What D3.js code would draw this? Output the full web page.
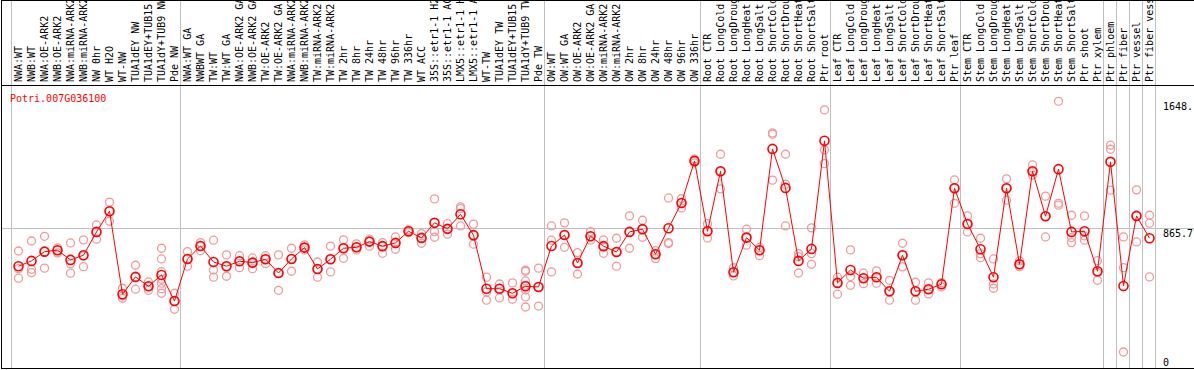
<!DOCTYPE html>
<html>
<head>
    <meta charset="utf-8" />
    <title>Potri.007G036100</title>
    <script src="https://cdn.jsdelivr.net/npm/d3@7"></script>
    <style>
        body { margin: 0; background: #fff; }
        text { font-family: "DejaVu Sans Mono", monospace; font-size: 10px; }
    </style>
</head>
<body>
    <svg width="1194" height="370"></svg>
    <script>

        var geneName = "Potri.007G036100";

        var categories = [
            "NWA:WT", "NWB:WT", "NWA:OE-ARK2", "NWB:OE-ARK2", "NWA:miRNA-ARK2", "NWB:miRNA-ARK2",
            "NW 0hr", "WT H2O", "WT-NW", "TUA1dEY NW", "TUA1dEY+TUB15 NW", "TUA1dY+TUB9 NW", "Pde NW",
            "NWA:WT GA", "NWBWT GA", "TW:WT", "TW:WT GA", "NWA:OE-ARK2 GA", "NWB:OE-ARK2 GA",
            "TW:OE-ARK2", "TW:OE-ARK2 GA", "NWA:miRNA-ARK2", "NWB:miRNA-ARK2", "TW:miRNA-ARK2",
            "TW:miRNA-ARK2", "TW 2hr", "TW 8hr", "TW 24hr", "TW 48hr", "TW 96hr", "TW 336hr",
            "WT ACC", "35S::etr1-1 H2O", "35S::etr1-1 ACC", "LMX5::etr1-1 H2O", "LMX5::etr1-1 ACC",
            "WT-TW", "TUA1dEY TW", "TUA1dEY+TUB15 TW", "TUA1dY+TUB9 TW", "Pde TW",
            "OW:WT", "OW:WT GA", "OW:OE-ARK2", "OW:OE-ARK2 GA", "OW:miRNA-ARK2", "OW:miRNA-ARK2",
            "OW 2hr", "OW 8hr", "OW 24hr", "OW 48hr", "OW 96hr", "OW 336hr",
            "Root CTR", "Root LongCold", "Root LongDrought", "Root LongHeat", "Root LongSalt",
            "Root ShortCold", "Root ShortDrought", "Root ShortHeat", "Root ShortSalt", "Ptr root",
            "Leaf CTR", "Leaf LongCold", "Leaf LongDrought", "Leaf LongHeat", "Leaf LongSalt",
            "Leaf ShortCold", "Leaf ShortDrought", "Leaf ShortHeat", "Leaf ShortSalt", "Ptr leaf",
            "Stem CTR", "Stem LongCold", "Stem LongDrought", "Stem LongHeat", "Stem LongSalt",
            "Stem ShortCold", "Stem ShortDrought", "Stem ShortHeat", "Stem ShortSalt", "Ptr shoot",
            "Ptr xylem", "Ptr phloem", "Ptr fiber", "Ptr vessel", "Ptr fiber vessel"
        ];

        // index of the first category of each group (separator lines)
        var groupStarts = [0, 13, 41, 53, 63, 73, 84, 85, 86, 87, 88];

        var means = [
            629, 662, 719, 728, 668, 697, 841, 969, 456, 563, 505, 575, 414,
            674, 754, 655, 629, 660, 651, 672, 587, 674, 744, 612, 672, 740, 746, 781, 753, 773, 845,
            804, 897, 860, 950, 821, 490, 490, 462, 505, 501,
            754, 822, 649, 814, 753, 717, 841, 858, 703, 864, 1020, 1280,
            845, 1216, 592, 806, 728, 1354, 1113, 662, 736, 1404,
            526, 606, 555, 561, 474, 697, 474, 487, 518, 1111,
            890, 734, 561, 1111, 641, 1216, 938, 1229, 841, 845, 598,
            1274, 507, 940, 802
        ];

        var replicates = [
            [723, 614, 555], [785, 610, 589], [814, 719, 617], [742, 728, 711], [773, 645, 586],
            [792, 693, 626], [884, 841, 796], [1025, 969, 907], [493, 445, 431], [635, 563, 487],
            [532, 505, 480], [740, 674, 595, 548, 524, 490, 462], [462, 414, 363],
            [719, 674, 629], [775, 754, 725], [790, 606, 561], [699, 629, 567], [694, 660, 620],
            [680, 651, 614], [694, 672, 645], [699, 587, 480], [740, 674, 598], [761, 744, 730],
            [655, 612, 561], [753, 672, 594], [792, 740, 678], [767, 746, 730], [796, 781, 753],
            [775, 753, 709], [810, 773, 734], [853, 845, 837], [830, 804, 771], [1045, 843, 808],
            [892, 860, 827], [996, 985, 878], [889, 821, 765], [561, 470, 419], [519, 490, 433],
            [526, 462, 425], [604, 598, 538, 511, 482, 439, 377], [617, 501, 383],
            [878, 790, 594], [897, 822, 746], [713, 649, 581], [843, 814, 790], [792, 753, 709],
            [802, 717, 629], [940, 841, 740], [913, 858, 808], [725, 703, 676], [1051, 775, 769],
            [1047, 1020, 989], [1292, 1280, 1268],
            [892, 845, 804], [1321, 1216, 1107], [620, 592, 569], [858, 806, 759], [746, 728, 694],
            [1453, 1445, 1161], [1321, 1136, 878], [707, 688, 587], [866, 707, 641], [1595, 1348, 1263],
            [561, 526, 456], [730, 565, 511], [586, 555, 521], [600, 561, 524], [542, 474, 419],
            [771, 697, 625], [530, 474, 419], [526, 487, 458], [527, 518, 501], [1162, 1111, 1018],
            [940, 890, 841], [802, 707, 682], [674, 519, 493], [1169, 1111, 1037], [662, 641, 626],
            [1255, 1216, 1192], [1062, 938, 810], [1648, 1018, 1006], [944, 806, 775], [940, 816, 790],
            [663, 589, 542], [1377, 1352, 1099], [810, 620, 99], [1101, 940, 779], [944, 895, 563]
        ];

        var yTicks = [0, 865.7, 1648];
        var yTickLabels = ["0", "865.7", "1648."];
        var yMax = 1648 * 1.05;

        var svg = d3.select("svg"),
            width = +svg.attr("width"),
            height = +svg.attr("height");

        var headerBottom = 85, plotBottom = 368, plotLeft = 11, plotRight = 1155;

        var x = d3.scaleBand()
            .domain(d3.range(categories.length))
            .range([plotLeft, plotRight])
            .paddingInner(0).paddingOuter(0);

        var y = d3.scaleLinear()
            .domain([0, yMax])
            .range([plotBottom, plotBottom - 280]);

        function cx(i) { return x(i) + 7.5; }

        // grid
        var grid = svg.append("g").attr("stroke", "#c0c0c0").attr("stroke-width", 1);

        grid.selectAll("line.v")
            .data(groupStarts)
            .enter()
            .append("line")
            .attr("class", "v")
            .attr("x1", function (d) { return Math.round(x(d) === undefined ? plotRight : x(d)) + 0.5; })
            .attr("x2", function (d) { return Math.round(x(d) === undefined ? plotRight : x(d)) + 0.5; })
            .attr("y1", 0)
            .attr("y2", plotBottom);

        grid.append("line")
            .attr("x1", 2).attr("x2", width)
            .attr("y1", Math.round(y(yTicks[1])) + 0.5)
            .attr("y2", Math.round(y(yTicks[1])) + 0.5);

        // frame
        svg.append("rect")
            .attr("x", 1.5).attr("y", 0.5)
            .attr("width", width).attr("height", plotBottom)
            .attr("fill", "none").attr("stroke", "#000");

        svg.append("line")
            .attr("x1", 2).attr("x2", width)
            .attr("y1", headerBottom + 0.5).attr("y2", headerBottom + 0.5)
            .attr("stroke", "#000");

        // category labels, rotated
        svg.append("g")
            .selectAll("text")
            .data(categories)
            .enter()
            .append("text")
            .attr("transform", function (d, i) { return "translate(" + (cx(i) + 3.5) + "," + (headerBottom - 3) + ") rotate(-90)"; })
            .attr("fill", "#000")
            .text(function (d) { return d; });

        // right tick labels
        svg.append("g")
            .selectAll("text")
            .data(yTicks)
            .enter()
            .append("text")
            .attr("x", 1163)
            .attr("y", function (d) { return d === 0 ? y(d) - 2.5 : y(d) + 9; })
            .attr("fill", "#000")
            .text(function (d, i) { return yTickLabels[i]; });

        svg.append("text")
            .attr("x", 10).attr("y", 101.5)
            .attr("fill", "#ff0000")
            .text(geneName);

        // replicate points
        var repPoints = [];
        replicates.forEach(function (r, i) {
            r.forEach(function (v) { repPoints.push({ i: i, v: v }); });
        });

        svg.append("g")
            .selectAll("circle")
            .data(repPoints)
            .enter()
            .append("circle")
            .attr("cx", function (d) { return cx(d.i); })
            .attr("cy", function (d) { return y(d.v); })
            .attr("r", 4)
            .attr("fill", "none")
            .attr("stroke", "#f09a9a")
            .attr("stroke-width", 1.3);

        var line = d3.line()
            .x(function (d, i) { return cx(i); })
            .y(function (d) { return y(d); });

        svg.append("path")
            .datum(means)
            .attr("d", line)
            .attr("fill", "none")
            .attr("stroke", "#ff0000")
            .attr("stroke-width", 1);

        svg.append("g")
            .selectAll("circle")
            .data(means)
            .enter()
            .append("circle")
            .attr("cx", function (d, i) { return cx(i); })
            .attr("cy", function (d) { return y(d); })
            .attr("r", 4.5)
            .attr("fill", "none")
            .attr("stroke", "#ff0000")
            .attr("stroke-width", 1.6);

    </script>
</body>
</html>
